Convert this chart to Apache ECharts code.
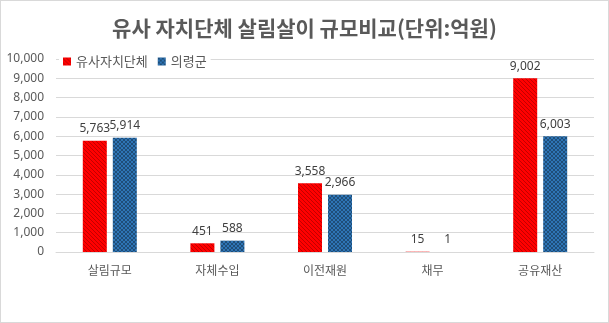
<!DOCTYPE html>
<html><head><meta charset="utf-8">
<script src="https://cdn.jsdelivr.net/npm/echarts@6/dist/echarts.min.js"></script>
<style>html,body{margin:0;padding:0;background:#fff}#c{width:609px;height:323px;box-sizing:border-box;border:1px solid #d9d9d9}</style>
</head><body><div id="c"></div>
<script>
const categories = ['살림규모','자체수입','이전재원','채무','공유재산'];
const similarValues = [5763, 451, 3558, 15, 9002];
const uiryeongValues = [5914, 588, 2966, 1, 6003];
const seriesNames = ['유사자치단체','의령군'];
const yTicks = [0,1000,2000,3000,4000,5000,6000,7000,8000,9000,10000];

function stripe(){
  const c=document.createElement('canvas');c.width=4;c.height=4;
  const x=c.getContext('2d');x.fillStyle='#ff0000';x.fillRect(0,0,4,4);
  x.fillStyle='#c00000';
  for(let i=0;i<4;i++){x.fillRect((i+3)%4,i,1,1);}
  return c;
}
function checker(){
  const c=document.createElement('canvas');c.width=4;c.height=4;
  const x=c.getContext('2d');x.fillStyle='#2e75b6';x.fillRect(0,0,4,4);
  x.fillStyle='#1f4e79';x.fillRect(0,0,2,2);x.fillRect(2,2,2,2);
  return c;
}
const redPat={image:stripe(),repeat:'repeat'};
const bluePat={image:checker(),repeat:'repeat'};
const fmt=v=>v.toLocaleString('en-US');
const chart=echarts.init(document.getElementById('c'),null,{renderer:'canvas'});
chart.setOption({
  animation:false,
  textStyle:{fontFamily:'"Noto Sans CJK KR", sans-serif'},
  title:{text:'유사 자치단체 살림살이 규모비교(단위:억원)',left:'center',top:12,
    textStyle:{fontSize:21,fontWeight:'bold',color:'#595959',fontFamily:'"Noto Sans CJK KR", sans-serif'}},
  legend:{left:58,top:52,itemWidth:8,itemHeight:8,itemGap:10,backgroundColor:'#fff',padding:[2,4,2,4],
    textStyle:{fontSize:13,color:'#595959',fontFamily:'"Noto Sans CJK KR", sans-serif'},
    data:[{name:seriesNames[0],icon:'rect',itemStyle:{color:redPat}},{name:seriesNames[1],icon:'rect',itemStyle:{color:bluePat}}]},
  grid:{left:55,right:14,top:58,bottom:70},
  xAxis:{type:'category',data:categories,axisTick:{show:false},
    axisLine:{lineStyle:{color:'#d9d9d9'}},
    axisLabel:{fontSize:12,color:'#595959',margin:12,fontFamily:'"Noto Sans CJK KR", sans-serif'}},
  yAxis:{type:'value',min:yTicks[0],max:yTicks[yTicks.length-1],interval:1000,
    splitLine:{lineStyle:{color:'#d9d9d9'}},axisLine:{show:false},axisTick:{show:false},
    axisLabel:{fontSize:12,color:'#595959',margin:12,formatter:v=>fmt(v),fontFamily:'"Noto Sans", sans-serif'}},
  series:[
    {name:seriesNames[0],type:'bar',data:similarValues,barWidth:24,barGap:'25%',barCategoryGap:'50%',
     itemStyle:{color:redPat},
     label:{show:true,position:'top',distance:6,fontSize:12,color:'#404040',formatter:p=>fmt(p.value),fontFamily:'"Noto Sans", sans-serif'}},
    {name:seriesNames[1],type:'bar',data:uiryeongValues,barWidth:24,barGap:'25%',
     itemStyle:{color:bluePat},
     label:{show:true,position:'top',distance:6,fontSize:12,color:'#404040',formatter:p=>fmt(p.value),fontFamily:'"Noto Sans", sans-serif'}}
  ]
});
</script></body></html>
